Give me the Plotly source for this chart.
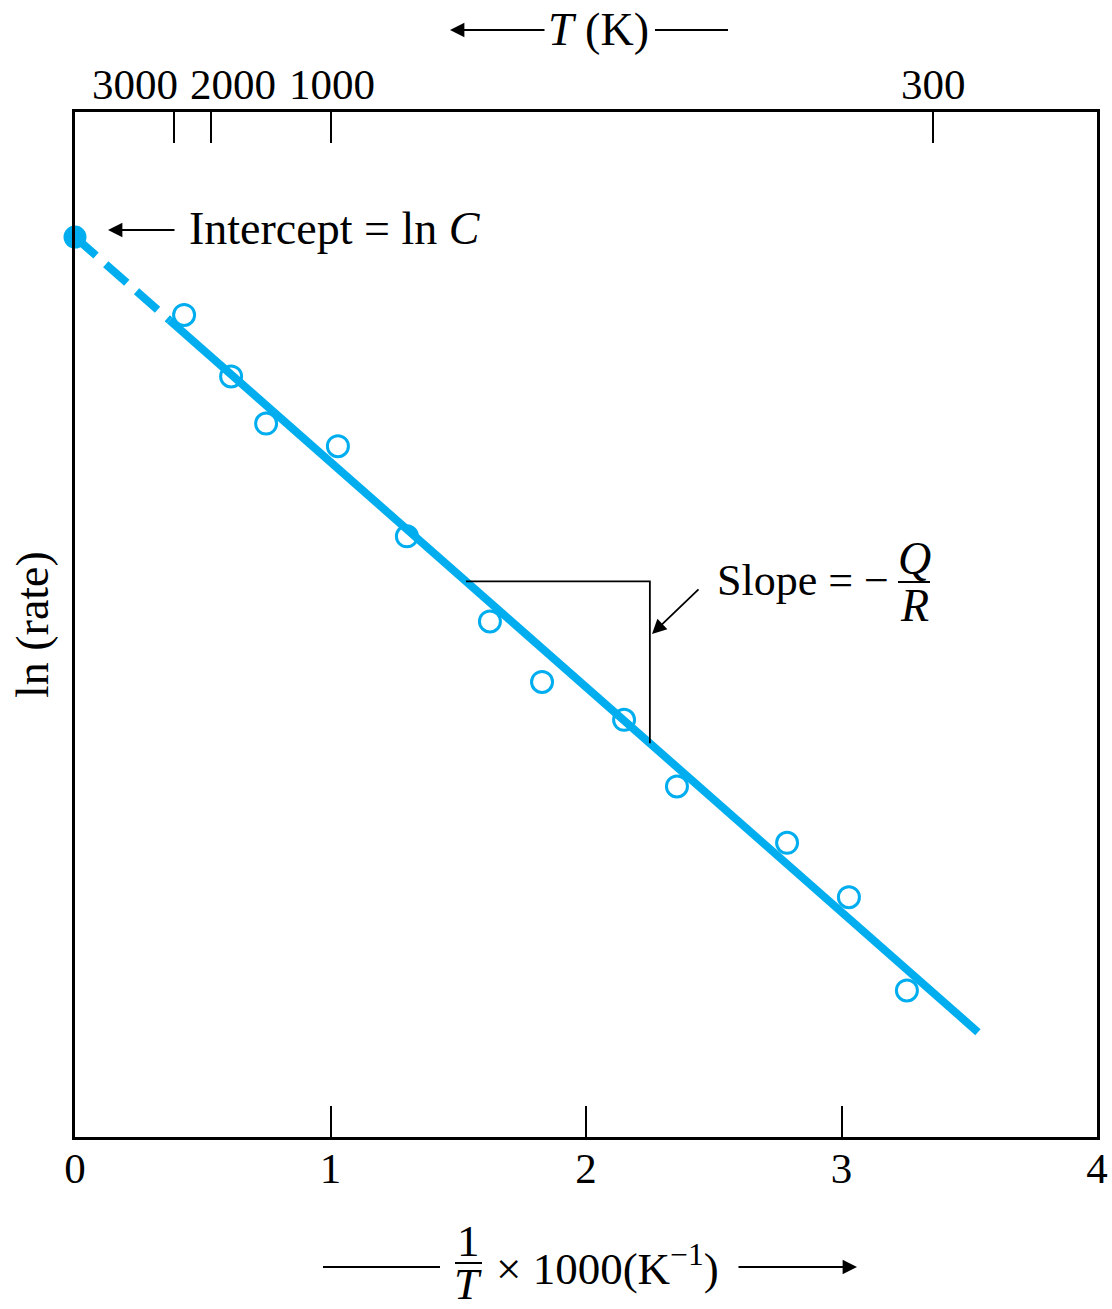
import plotly.graph_objects as go

# Arrhenius plot: ln(rate) against reciprocal temperature
inv_T = [0.427, 0.611, 0.748, 1.029, 1.299, 1.624, 1.828, 2.149, 2.356, 2.787, 3.029, 3.256]
ln_rate = [8.02, 7.42, 6.96, 6.74, 5.86, 5.03, 4.44, 4.07, 3.42, 2.87, 2.34, 1.43]

# straight-line fit: intercept = ln C, slope = -Q/R
ln_C = 8.78
slope = -2.195
x_dash_end = 0.37
x_fit_end = 3.534

# slope triangle corners (in 1/T units)
tri_x = [1.53, 2.25]

# temperature scale on top
T_labels = ["3000", "2000", "1000", "300"]
T_tick_pos = [0.387, 0.532, 1.0, 3.36]
T_label_pos = [0.235, 0.62, 1.005, 3.36]

x_ticks = [0, 1, 2, 3, 4]

BLUE = "#00AEEF"
FONT = "Liberation Serif"
W, H = 1112, 1309
L, R, T, B = 75, 15, 112, 172
# page-pixel frame used for placing the annotation texts
FL, FR, FT, FB = L, W - R, T, H - B


def px(x):
    return (x - FL) / (FR - FL)


def py(y):
    return (FB - y) / (FB - FT)


def line_y(x):
    return ln_C + slope * x


def arrow(head, tail):
    # arrow drawn from tail to head, both in page pixels
    return dict(x=px(head[0]), y=py(head[1]), xref="paper", yref="paper",
                ax=tail[0] - head[0], ay=tail[1] - head[1], axref="pixel", ayref="pixel",
                text="", showarrow=True, arrowhead=2, arrowsize=1.6, arrowwidth=1.8,
                arrowcolor="black")


fig = go.Figure()

# extrapolated dashed part of the fit
fig.add_trace(go.Scatter(
    x=[0, x_dash_end], y=[line_y(0), line_y(x_dash_end)], mode="lines",
    line=dict(color=BLUE, width=8, dash="28px,13px"), hoverinfo="skip"))
# solid fit line
fig.add_trace(go.Scatter(
    x=[x_dash_end, x_fit_end], y=[line_y(x_dash_end), line_y(x_fit_end)], mode="lines",
    line=dict(color=BLUE, width=8), hoverinfo="skip"))
# slope triangle
fig.add_trace(go.Scatter(
    x=[tri_x[0], tri_x[1], tri_x[1]],
    y=[line_y(tri_x[0]), line_y(tri_x[0]), line_y(tri_x[1])],
    mode="lines", line=dict(color="black", width=1.8), hoverinfo="skip"))
# measured points
fig.add_trace(go.Scatter(
    x=inv_T, y=ln_rate, mode="markers",
    marker=dict(symbol="circle-open", size=21, color=BLUE, line=dict(width=3, color=BLUE))))
# intercept point
fig.add_trace(go.Scatter(
    x=[0], y=[ln_C], mode="markers", cliponaxis=False,
    marker=dict(symbol="circle", size=23, color=BLUE)))
# carrier for the top temperature axis
fig.add_trace(go.Scatter(x=T_tick_pos, y=[None] * len(T_tick_pos), xaxis="x2",
                         mode="markers", hoverinfo="skip"))

ann = []
tick_font = dict(family=FONT, size=43, color="black")
text_font = dict(family=FONT, size=46, color="black")
slope_font = dict(family=FONT, size=44, color="black")
xtitle_font = dict(family=FONT, size=45, color="black")

for lab, pos in zip(T_labels, T_label_pos):
    ann.append(dict(x=pos, xref="x", y=py(85), yref="paper", text=lab, showarrow=False,
                    font=tick_font, xanchor="center", yanchor="middle"))

# intercept label and arrow
ann.append(arrow((108, 230), (176, 230)))
ann.append(dict(x=px(187), y=py(228), xref="paper", yref="paper",
                text="Intercept = ln <i>C</i>", showarrow=False, font=text_font,
                xanchor="left", yanchor="middle"))

# slope label and arrow
ann.append(arrow((652, 634), (700, 588)))
ann.append(dict(x=px(715), y=py(580), xref="paper", yref="paper", text="Slope = \u2212",
                showarrow=False, font=slope_font, xanchor="left", yanchor="middle"))
ann.append(dict(x=px(914), y=py(558), xref="paper", yref="paper", text="<i>Q</i>",
                showarrow=False, font=text_font, xanchor="center", yanchor="middle"))
ann.append(dict(x=px(914), y=py(605), xref="paper", yref="paper", text="<i>R</i>",
                showarrow=False, font=text_font, xanchor="center", yanchor="middle"))

# top axis title
ann.append(arrow((450, 30), (546, 30)))
ann.append(dict(x=px(598), y=py(30), xref="paper", yref="paper", text="<i>T</i> (K)",
                showarrow=False, font=text_font, xanchor="center", yanchor="middle"))

# bottom axis title
ann.append(dict(x=px(468), y=py(1241), xref="paper", yref="paper", text="1",
                showarrow=False, font=xtitle_font, xanchor="center", yanchor="middle"))
ann.append(dict(x=px(468), y=py(1284), xref="paper", yref="paper", text="<i>T</i>",
                showarrow=False, font=xtitle_font, xanchor="center", yanchor="middle"))
ann.append(dict(x=px(494), y=py(1265), xref="paper", yref="paper",
                text="\u00d7 1000(K<sup>\u22121</sup>)",
                showarrow=False, font=xtitle_font, xanchor="left", yanchor="middle"))
ann.append(arrow((857, 1267), (737, 1267)))

# y axis title
ann.append(dict(x=px(32), y=py(625), xref="paper", yref="paper", text="ln (rate)",
                textangle=-90, showarrow=False, font=text_font,
                xanchor="center", yanchor="middle"))

shapes = [
    dict(type="line", xref="paper", yref="paper", x0=px(655), x1=px(728), y0=py(30), y1=py(30),
         line=dict(color="black", width=1.8)),
    dict(type="line", xref="paper", yref="paper", x0=px(898), x1=px(930), y0=py(582), y1=py(582),
         line=dict(color="black", width=2)),
    dict(type="line", xref="paper", yref="paper", x0=px(323), x1=px(440), y0=py(1267), y1=py(1267),
         line=dict(color="black", width=1.8)),
    dict(type="line", xref="paper", yref="paper", x0=px(455), x1=px(482), y0=py(1263), y1=py(1263),
         line=dict(color="black", width=2)),
]

fig.update_layout(
    width=W, height=H, margin=dict(l=L, r=R, t=T, b=B),
    plot_bgcolor="white", paper_bgcolor="white", showlegend=False,
    annotations=ann, shapes=shapes,
    xaxis=dict(range=[0, 4], tickvals=x_ticks, ticktext=[str(v) for v in x_ticks],
               ticks="inside", ticklen=31, tickwidth=1.6, tickcolor="black",
               showline=True, linewidth=3, linecolor="black", mirror=True, automargin=False,
               ticklabeloverflow="allow",
               showgrid=False, zeroline=False, tickfont=tick_font, ticklabelstandoff=-9),
    xaxis2=dict(range=[0, 4], overlaying="x", side="top", tickvals=T_tick_pos,
                ticks="inside", ticklen=31, tickwidth=1.6, tickcolor="black", automargin=False,
                showticklabels=False, showline=False, showgrid=False, zeroline=False),
    yaxis=dict(range=[0, 10], showticklabels=False, ticks="", showline=True, linewidth=3,
               linecolor="black", mirror=True, showgrid=False, zeroline=False, automargin=False),
)

fig.write_html("out.html")
